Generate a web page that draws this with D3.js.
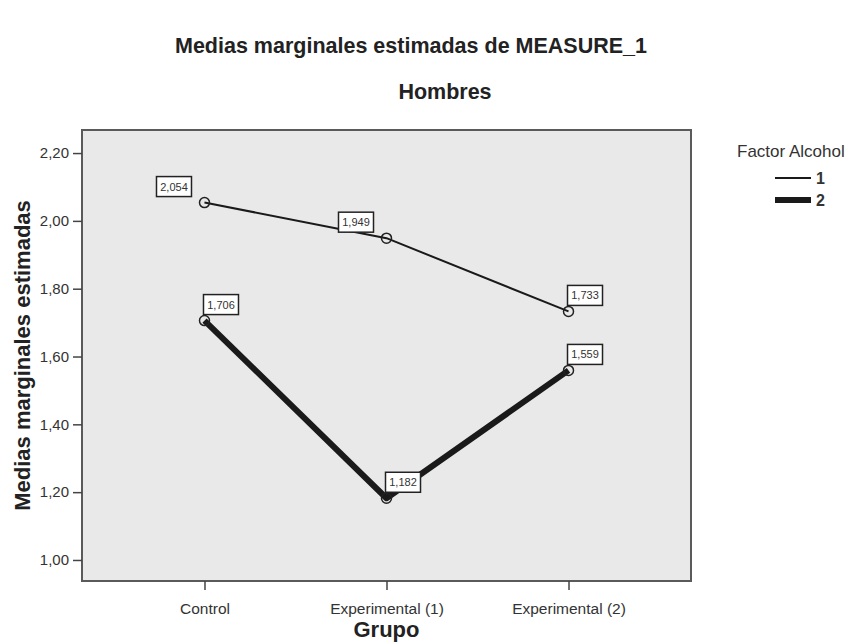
<!DOCTYPE html>
<html><head><meta charset="utf-8">
<script src="https://cdn.jsdelivr.net/npm/d3@7"></script>
<style>body{margin:0;background:#fff;}svg{display:block;font-family:"Liberation Sans",Arial,sans-serif;}</style>
</head><body>
<svg id="c" width="866" height="643"></svg>
<script>
const categories = ["Control", "Experimental (1)", "Experimental (2)"];
const seriesNames = ["1", "2"];
const alcohol1 = [2.054, 1.949, 1.733];
const alcohol2 = [1.706, 1.182, 1.559];
const yTicks = [1.0, 1.2, 1.4, 1.6, 1.8, 2.0, 2.2];
const labelSide1 = ["left", "left", "right"];
const labelSide2 = ["right", "right", "right"];

const svg = d3.select("#c");
const L = 82, R = 691, T = 130, B = 581;
const x = d3.scalePoint().domain(categories).range([L, R]).padding(0.673);
const y = d3.scaleLinear().domain([0.938, 2.268]).range([B, T]);
const fmt = v => d3.format(".3f")(v).replace(".", ",");
const fmtT = v => d3.format(".2f")(v).replace(".", ",");

svg.append("text").attr("x", 175).attr("y", 53).attr("text-anchor", "start")
  .attr("font-size", 21.5).attr("font-weight", "bold").attr("fill", "#222").text("Medias marginales estimadas de MEASURE_1");
svg.append("text").attr("x", 445).attr("y", 99).attr("text-anchor", "middle")
  .attr("font-size", 21.5).attr("font-weight", "bold").attr("fill", "#222").text("Hombres");

svg.append("rect").attr("x", L).attr("y", T).attr("width", R - L).attr("height", B - T)
  .attr("fill", "#e9e9ea").attr("stroke", "#5a5a5a").attr("stroke-width", 2);

const yAxis = svg.append("g").attr("transform", `translate(${L},0)`)
  .call(d3.axisLeft(y).tickValues(yTicks).tickFormat(fmtT).tickSize(9).tickPadding(4));
yAxis.select(".domain").remove();
yAxis.selectAll("line").attr("stroke", "#444").attr("stroke-width", 1.5);
yAxis.selectAll("text").attr("font-size", 15).attr("fill", "#333").attr("font-family", "Liberation Sans, Arial");

const xAxis = svg.append("g").attr("transform", `translate(0,${B})`)
  .call(d3.axisBottom(x).tickSize(9).tickPadding(13));
xAxis.select(".domain").remove();
xAxis.selectAll("line").attr("stroke", "#444").attr("stroke-width", 1.5);
xAxis.selectAll("text").attr("font-size", 15.5).attr("fill", "#333").attr("font-family", "Liberation Sans, Arial");

svg.append("text").attr("transform", `translate(30,${(T + B) / 2}) rotate(-90)`).attr("text-anchor", "middle")
  .attr("font-size", 22).attr("font-weight", "bold").attr("fill", "#222").text("Medias marginales estimadas");
svg.append("text").attr("x", (L + R) / 2).attr("y", 637).attr("text-anchor", "middle")
  .attr("font-size", 22).attr("font-weight", "bold").attr("fill", "#222").text("Grupo");

const line = d3.line().x((d, i) => x(categories[i])).y(d => y(d));
const series = [
  {vals: alcohol1, w: 2, sides: labelSide1},
  {vals: alcohol2, w: 6, sides: labelSide2}
];
series.forEach(s => {
  svg.append("path").attr("d", line(s.vals)).attr("fill", "none").attr("stroke", "#1a1a1a")
    .attr("stroke-width", s.w).attr("stroke-linejoin", "round");
  s.vals.forEach((v, i) => {
    svg.append("circle").attr("cx", x(categories[i])).attr("cy", y(v)).attr("r", 5)
      .attr("fill", "none").attr("stroke", "#222").attr("stroke-width", 1.5);
  });
});
series.forEach(s => {
  s.vals.forEach((v, i) => {
    const px = x(categories[i]), py = y(v);
    const w = 35, h = 20;
    const bx = s.sides[i] === "left" ? px - w - 13 : px - 1;
    const by = py - h - 6;
    svg.append("rect").attr("x", bx).attr("y", by).attr("width", w).attr("height", h)
      .attr("fill", "#fff").attr("stroke", "#222").attr("stroke-width", 1.5);
    svg.append("text").attr("x", bx + w / 2).attr("y", by + h / 2 + 4).attr("text-anchor", "middle")
      .attr("font-size", 11).attr("fill", "#333").text(fmt(v));
  });
});

const lg = svg.append("g");
lg.append("text").attr("x", 737).attr("y", 157).attr("font-size", 17).attr("fill", "#333").text("Factor Alcohol");
seriesNames.forEach((n, i) => {
  const yy = 178 + i * 22;
  lg.append("line").attr("x1", 775).attr("x2", 811).attr("y1", yy).attr("y2", yy)
    .attr("stroke", "#1a1a1a").attr("stroke-width", series[i].w);
  lg.append("text").attr("x", 816).attr("y", yy + 6).attr("font-size", 16).attr("font-weight", "bold").attr("fill", "#333").text(n);
});
</script>
</body></html>
